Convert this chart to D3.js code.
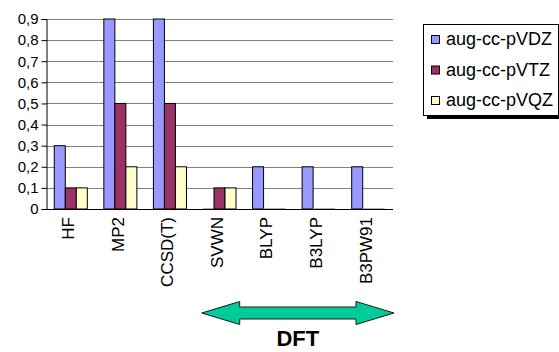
<!DOCTYPE html>
<html><head><meta charset="utf-8">
<script src="https://cdn.jsdelivr.net/npm/d3@7"></script>
<style>body{margin:0;background:#fff}svg{display:block;font-family:"Liberation Sans",Arial,sans-serif}</style>
</head><body><svg id="c" width="559" height="352"></svg>
<script>
const categories = ["HF","MP2","CCSD(T)","SVWN","BLYP","B3LYP","B3PW91"];
const seriesNames = ["aug-cc-pVDZ","aug-cc-pVTZ","aug-cc-pVQZ"];
const vdz = [0.3,0.9,0.9,0,0.2,0.2,0.2];
const vtz = [0.1,0.5,0.5,0.1,0,0,0];
const vqz = [0.1,0.2,0.2,0.1,0,0,0];
const yTicks = [0,0.1,0.2,0.3,0.4,0.5,0.6,0.7,0.8,0.9];
const yTickLabels = ["0","0,1","0,2","0,3","0,4","0,5","0,6","0,7","0,8","0,9"];
const colors = ["#9999FF","#993366","#FFFFCC"];
const groupLabel = "DFT";
const dftCats = ["SVWN","B3PW91"];

const series = [vdz,vtz,vqz];
const svg = d3.select("#c");
const x = d3.scaleBand().domain(categories).range([46,393]).padding(0);
const y = d3.scaleLinear().domain([0,0.9]).range([209,19]);
const gw = x.bandwidth()/1.5;
const xi = d3.scaleBand().domain(d3.range(series.length)).range([0,gw]);

// gridlines
svg.append("g").selectAll("line").data(yTicks.filter(d=>d>0)).join("line")
  .attr("x1",46).attr("x2",393).attr("y1",d=>Math.round(y(d))+0.5).attr("y2",d=>Math.round(y(d))+0.5)
  .attr("stroke","#808080").attr("stroke-width",1);

// bars
const g = svg.append("g");
categories.forEach((c,ci)=>{
  series.forEach((s,si)=>{
    const v = s[ci];
    const x0 = x(c) + (x.bandwidth()-gw)/2 + xi(si);
    if (v>0) {
      g.append("rect").attr("x",x0).attr("y",y(v)).attr("width",xi.bandwidth()).attr("height",y(0)-y(v))
        .attr("fill",colors[si]).attr("stroke","#000").attr("stroke-width",1);
    } else {
      g.append("line").attr("x1",x0).attr("x2",x0+xi.bandwidth()).attr("y1",y(0)-0.5).attr("y2",y(0)-0.5)
        .attr("stroke","#b0b0b0").attr("stroke-width",1);
    }
  });
});

// y axis
const ya = svg.append("g").attr("transform","translate(46.5,0)")
  .call(d3.axisLeft(y).tickValues(yTicks).tickSize(5).tickPadding(3).tickFormat((d,i)=>yTickLabels[i]));
ya.select(".domain").attr("stroke","#000");
ya.selectAll(".tick line").attr("stroke","#000");
ya.selectAll("text").attr("font-size",15).attr("fill","#000").attr("font-family","Liberation Sans, Arial, sans-serif");

// x axis line
svg.append("line").attr("x1",46).attr("x2",393).attr("y1",209.5).attr("y2",209.5).attr("stroke","#000");

// category labels
svg.append("g").selectAll("text").data(categories).join("text")
  .attr("transform",d=>`translate(${x(d)+x.bandwidth()/2},217) rotate(-90)`)
  .attr("text-anchor","end").attr("dy","0.2em").attr("font-size",17).attr("fill","#000")
  .text(d=>d);

// DFT arrow
const ax0 = x(dftCats[0])+7, ax1 = x(dftCats[1])+x.bandwidth()+1, ay = 313, hl = 38, hh = 11.5, sh = 6;
const arrowPts = [[ax0,ay],[ax0+hl,ay-hh],[ax0+hl,ay-sh],[ax1-hl,ay-sh],[ax1-hl,ay-hh],[ax1,ay],[ax1-hl,ay+hh],[ax1-hl,ay+sh],[ax0+hl,ay+sh],[ax0+hl,ay+hh]];
svg.append("path").attr("d",d3.line()(arrowPts)+"Z").attr("fill","#00CC99").attr("stroke","#1a1a1a").attr("stroke-width",1);
svg.append("text").attr("x",(ax0+ax1)/2).attr("y",346).attr("text-anchor","middle")
  .attr("font-size",22).attr("font-weight","bold").attr("fill","#000").text(groupLabel);

// legend
const lg = svg.append("g");
lg.append("rect").attr("x",427).attr("y",27).attr("width",135).attr("height",92).attr("fill","#000");
lg.append("rect").attr("x",423.5).attr("y",24.5).attr("width",135).attr("height",91).attr("fill","#fff").attr("stroke","#000");
seriesNames.forEach((n,i)=>{
  const by = 45 + i*30.5;
  lg.append("rect").attr("x",431.5).attr("y",by-9.5).attr("width",8).attr("height",8).attr("fill",colors[i]).attr("stroke","#000");
  lg.append("text").attr("x",446).attr("y",by).attr("font-size",18).attr("fill","#000").text(n);
});
</script></body></html>
